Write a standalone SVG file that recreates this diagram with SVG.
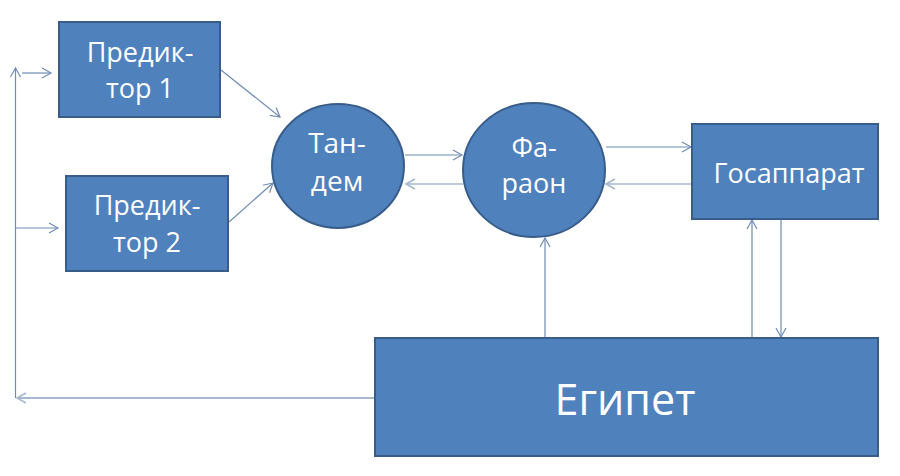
<svg xmlns="http://www.w3.org/2000/svg" width="900" height="476" viewBox="0 0 900 476">
<defs>
<style>
.box{fill:#4f81bd;stroke:#385d8a;stroke-width:2}
.t{fill:#ffffff;font-family:"Open Sans","Liberation Sans",sans-serif;text-anchor:middle}
.c{fill:none;stroke:#6f8db5;stroke-width:1.2}
.cl{fill:none;stroke:#a6b9d1;stroke-width:1.6}
.cb{fill:none;stroke:#a6b9d1;stroke-width:2.2}
</style>
<marker id="a" markerUnits="userSpaceOnUse" markerWidth="14" markerHeight="14" refX="10" refY="6" orient="auto">
<path d="M1,1 L10,6 L1,11" fill="none" stroke="#6f8db5" stroke-width="1.2"/>
</marker>
<marker id="al" markerUnits="userSpaceOnUse" markerWidth="14" markerHeight="14" refX="10" refY="6" orient="auto">
<path d="M1,1 L10,6 L1,11" fill="none" stroke="#a6b9d1" stroke-width="1.6"/>
</marker>
</defs>
<rect width="900" height="476" fill="#ffffff"/>
<g id="connectors">
<line class="c" x1="221" y1="70" x2="280" y2="117" marker-end="url(#a)"/>
<line class="c" x1="229" y1="222" x2="273" y2="183" marker-end="url(#a)"/>
<line class="c" x1="405" y1="155" x2="462" y2="155" marker-end="url(#a)"/>
<line class="cl" x1="463" y1="184" x2="406" y2="184" marker-end="url(#al)"/>
<line class="c" x1="606" y1="147" x2="691" y2="147" marker-end="url(#a)"/>
<line class="cl" x1="692" y1="184" x2="606" y2="184" marker-end="url(#al)"/>
<line class="c" x1="545" y1="338" x2="545" y2="238" marker-end="url(#a)"/>
<line class="c" x1="752" y1="338" x2="752" y2="220" marker-end="url(#a)"/>
<line class="c" x1="781" y1="220" x2="781" y2="337" marker-end="url(#a)"/>
<line class="cb" x1="374" y1="398" x2="17" y2="398" marker-end="url(#al)"/>
<line class="c" x1="15.5" y1="398" x2="15.5" y2="68" marker-end="url(#a)"/>
<line class="c" x1="22" y1="73" x2="51" y2="73" marker-end="url(#a)"/>
<line class="c" x1="15.5" y1="228" x2="58" y2="228" marker-end="url(#a)"/>
</g>
<g id="pred1">
<rect class="box" x="59" y="22" width="161" height="95"/>
<text class="t" x="140" y="62" font-size="27">Предик-</text>
<text class="t" x="140" y="98" font-size="27">тор 1</text>
</g>
<g id="pred2">
<rect class="box" x="66" y="176" width="162" height="95"/>
<text class="t" x="147" y="215" font-size="27">Предик-</text>
<text class="t" x="147" y="252" font-size="27">тор 2</text>
</g>
<g id="tandem">
<ellipse class="box" cx="338" cy="166" rx="66" ry="62"/>
<text class="t" x="337" y="153" font-size="28">Тан-</text>
<text class="t" x="337" y="191" font-size="28">дем</text>
</g>
<g id="pharaoh">
<ellipse class="box" cx="534" cy="170" rx="71" ry="67"/>
<text class="t" x="534" y="157" font-size="27">Фа-</text>
<text class="t" x="534" y="193" font-size="27">раон</text>
</g>
<g id="gosapparat">
<rect class="box" x="692" y="124" width="186" height="95"/>
<text class="t" x="789" y="183" font-size="27">Госаппарат</text>
</g>
<g id="egypt">
<rect class="box" x="375" y="338" width="503" height="118"/>
<text class="t" x="625" y="415" font-size="43">Египет</text>
</g>
</svg>
